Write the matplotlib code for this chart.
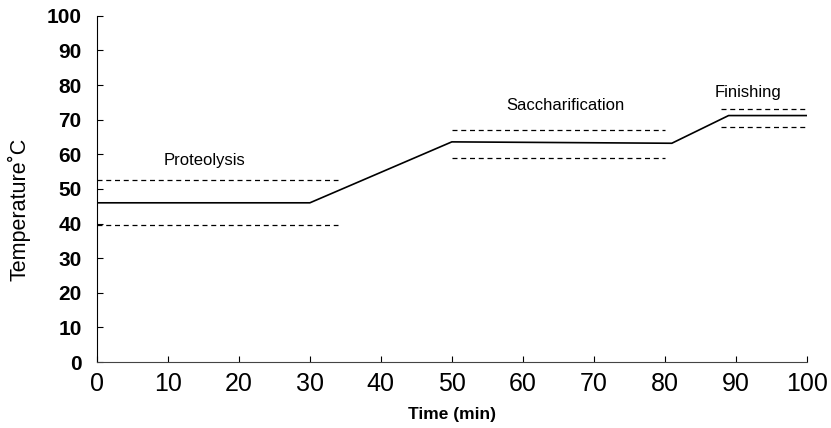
import matplotlib
matplotlib.use("Agg")
import matplotlib.pyplot as plt

plt.rcParams["font.family"] = ["Liberation Sans", "DejaVu Sans"]

# Temperature profile (solid line)
time_min = [0, 30, 50, 81, 89, 100]
temp_c = [46, 46, 63.6, 63.2, 71.2, 71.2]

# Stage ranges (dashed lines): x-start, x-end, upper, lower
stages = ["Proteolysis", "Saccharification", "Finishing"]
stage_x0 = [0, 50, 88]
stage_x1 = [34, 80, 100]
stage_hi = [52.5, 67, 73.2]
stage_lo = [39.7, 59, 67.8]
label_x = [15.2, 66, 91.8]
label_y = [58.2, 74, 77.8]

fig = plt.figure(figsize=(8.31, 4.28), dpi=100)
ax = fig.add_axes([0.1167, 0.154, 0.854, 0.809])

ax.plot(time_min, temp_c, color="black", lw=1.2)
for x0, x1, hi, lo in zip(stage_x0, stage_x1, stage_hi, stage_lo):
    ax.plot([x0, x1], [hi, hi], color="black", lw=0.9, ls=(0, (4, 3)))
    ax.plot([x0, x1], [lo, lo], color="black", lw=0.9, ls=(0, (4, 3)))
for name, lx, ly in zip(stages, label_x, label_y):
    ax.text(lx, ly, name, ha="center", va="center", fontsize=12)

ax.set_xlim(0, 100)
ax.set_ylim(0, 100)
ax.set_xticks(range(0, 101, 10))
ax.set_yticks(range(0, 101, 10))
ax.tick_params(direction="in", length=4, width=0.8)
ax.tick_params(axis="x", pad=7)
ax.tick_params(axis="y", labelsize=15, pad=11)
for lab in ax.get_yticklabels():
    lab.set_fontweight("bold")
for lab in ax.get_xticklabels():
    lab.set_family(["Liberation Sans Narrow", "Liberation Sans"])
    lab.set_fontsize(18)
ax.spines["top"].set_visible(False)
ax.spines["right"].set_visible(False)
ax.spines["bottom"].set_color("#444444")
ax.set_xlabel("Time (min)", fontsize=12.5, fontweight="bold", labelpad=8)
ax.set_ylabel("Temperature˚C", fontsize=15.5)
ax.yaxis.set_label_coords(-0.093, 0.44)

fig.savefig("out.png", dpi=100)
